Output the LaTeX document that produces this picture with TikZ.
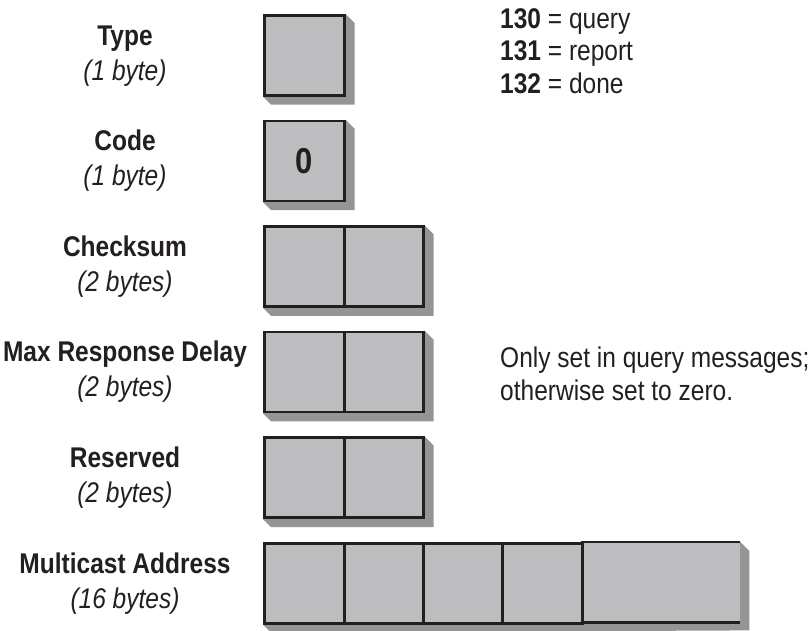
\documentclass[tikz,border=0pt]{standalone}
\usepackage{fontspec}
\setmainfont{Liberation Sans}[FakeStretch=0.86]
\usetikzlibrary{calc,backgrounds}
\definecolor{boxC}{HTML}{BDBDBF}
\definecolor{lineC}{HTML}{231F20}
\definecolor{shadC}{HTML}{959595}
\begin{document}
\begin{tikzpicture}[x=1pt,y=-1pt,
  cell/.style={draw=lineC,fill=boxC,line width=2.6pt,minimum height=80pt,inner sep=0pt,anchor=north west},
  cellnb/.style={fill=boxC,minimum height=80pt,inner sep=0pt,anchor=north west},
  edge/.style={draw=lineC,line width=2.6pt},
  shad/.style={fill=shadC},
  lab/.style={anchor=base,inner sep=0pt,font=\fontsize{28.5}{32}\selectfont\color{lineC}},
  note/.style={anchor=base west,inner sep=0pt,font=\fontsize{28.5}{32}\selectfont\color{lineC}}]
\useasboundingbox (0,0) rectangle (809,630);
\def\rA{14}\def\rB{119.6}\def\rC{225.2}\def\rD{330.8}\def\rE{436.4}\def\rF{542}
% Type
\node[cell,minimum width=80pt] (typeB) at (263,\rA) {};
\node[lab] (typeL) at (125,\rA+31) {\bfseries Type};
\node[lab] (typeS) at (125,\rA+66) {\itshape (1 byte)};
% Code
\node[cell,minimum width=80pt,font=\fontsize{36}{40}\selectfont\bfseries\color{lineC}] (codeB) at (263,\rB) {0};
\node[lab] (codeL) at (125,\rB+31) {\bfseries Code};
\node[lab] (codeS) at (125,\rB+66) {\itshape (1 byte)};
% Checksum
\node[cell,minimum width=80pt] (ck1) at (263,\rC) {};
\node[cell,minimum width=79pt] (ck2) at (343,\rC) {};
\node[lab] (ckL) at (125,\rC+31) {\bfseries Checksum};
\node[lab] (ckS) at (125,\rC+66) {\itshape (2 bytes)};
% Max Response Delay
\node[cell,minimum width=80pt] (md1) at (263,\rD) {};
\node[cell,minimum width=79pt] (md2) at (343,\rD) {};
\node[lab] (mdL) at (125,\rD+31) {\bfseries Max Response Delay};
\node[lab] (mdS) at (125,\rD+66) {\itshape (2 bytes)};
% Reserved
\node[cell,minimum width=80pt] (rs1) at (263,\rE) {};
\node[cell,minimum width=79pt] (rs2) at (343,\rE) {};
\node[lab] (rsL) at (125,\rE+31) {\bfseries Reserved};
\node[lab] (rsS) at (125,\rE+66) {\itshape (2 bytes)};
% Multicast Address
\node[cellnb,minimum width=159pt] (ma5) at (581,\rF) {};
\draw[edge] (ma5.north west) -- (ma5.north east);
\draw[edge] (ma5.south west) -- (ma5.south east);
\node[cell,minimum width=80pt] (ma1) at (263,\rF) {};
\node[cell,minimum width=79pt] (ma2) at (343,\rF) {};
\node[cell,minimum width=79pt] (ma3) at (422,\rF) {};
\node[cell,minimum width=80pt] (ma4) at (501,\rF) {};
\node[lab] (maL) at (125,\rF+31) {\bfseries Multicast Address};
\node[lab] (maS) at (125,\rF+66) {\itshape (16 bytes)};
% shadows
\begin{scope}[on background layer]
\foreach \a/\b in {typeB/typeB,codeB/codeB,ck1/ck2,md1/md2,rs1/rs2,ma1/ma5}{
  \fill[shad] (\b.north east) -- ($(\b.north east)+(9,9)$) -- ($(\b.south east)+(9,8)$)
     -- ($(\a.south west)+(8,8)$) -- (\a.south west) -- cycle;
}
\end{scope}
% notes
\node[note] (n130) at (500,28) {\textbf{130} = query};
\node[note] (n131) at (500,60) {\textbf{131} = report};
\node[note] (n132) at (500,93) {\textbf{132} = done};
\node[note] (nt1) at (500,367) {Only set in query messages;};
\node[note] (nt2) at (500,400) {otherwise set to zero.};
\end{tikzpicture}
\end{document}
